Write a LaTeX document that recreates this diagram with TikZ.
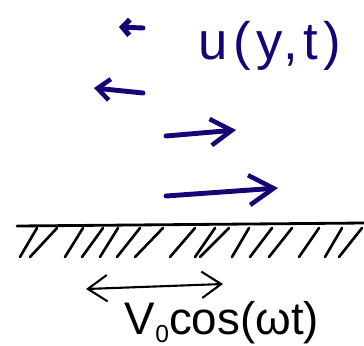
\documentclass[tikz,border=0pt]{standalone}
\usepackage{fontspec}
\setmainfont{Liberation Sans}
\newfontfamily\handfont[LetterSpace=10]{Liberation Sans}
\usetikzlibrary{arrows.meta}
\definecolor{inkblue}{RGB}{22,4,118}

\tikzset{
  flowarrow/.style={inkblue,line width=2.8pt,line cap=round,
    -{Straight Barb[length=12pt,width=15pt,line width=2.6pt]}},
  hatchline/.style={black,line width=1.5pt,line cap=round},
  wallline/.style={black,line width=1.6pt,line cap=round},
  motionarrow/.style={black,line width=1.2pt,line cap=round,
    {Straight Barb[length=11pt,width=15pt]}-{Straight Barb[length=11pt,width=15pt]}}
}

\begin{document}
\begin{tikzpicture}[x=0.02cm,y=-0.02cm]
  \useasboundingbox (0,0) rectangle (364,345);
  % velocity profile
  \coordinate (v1s) at (143,28);  \coordinate (v1e) at (119,27);
  \coordinate (v2s) at (143,93);  \coordinate (v2e) at (94,88);
  \coordinate (v3s) at (166,136); \coordinate (v3e) at (236,130);
  \coordinate (v4s) at (166,196); \coordinate (v4e) at (278,188);
  \draw[flowarrow,-{Straight Barb[length=4pt,width=9pt,line width=3pt]}] (v1s) -- (v1e);
  \draw[flowarrow,-{Straight Barb[length=7pt,width=12pt,line width=2.6pt]}] (v2s) -- (v2e);
  \draw[flowarrow] (v3s) -- (v3e);
  \draw[flowarrow,-{Straight Barb[length=14pt,width=17pt,line width=2.6pt]}] (v4s) -- (v4e);
  \node[inkblue,anchor=base,font=\handfont\fontsize{30}{30}\selectfont] (ulabel) at (270,59) {u(y,t)};
  % oscillating wall
  \coordinate (wl) at (17,226);
  \coordinate (wr) at (364,223);
  \draw[wallline] (wl) -- (wr);
  \foreach \xb/\xt in {20/37,30/57,65/83,82/103,100/118,117/140,135/163,170/195,
                       195/215,200/229,232/249,250/272,269/292,299/319,325/342,339/362}
    \draw[hatchline] (\xb,257) -- (\xt,228);
  \coordinate (ml) at (86,289);
  \coordinate (mr) at (223,284);
  \draw[motionarrow] (ml) -- (mr);
  \node[anchor=base,font=\fontsize{26}{26}\selectfont] (vlabel) at (222,334)
    {V\raisebox{-0.35ex}{\fontsize{14}{14}\selectfont 0}cos(ωt)};
\end{tikzpicture}
\end{document}
